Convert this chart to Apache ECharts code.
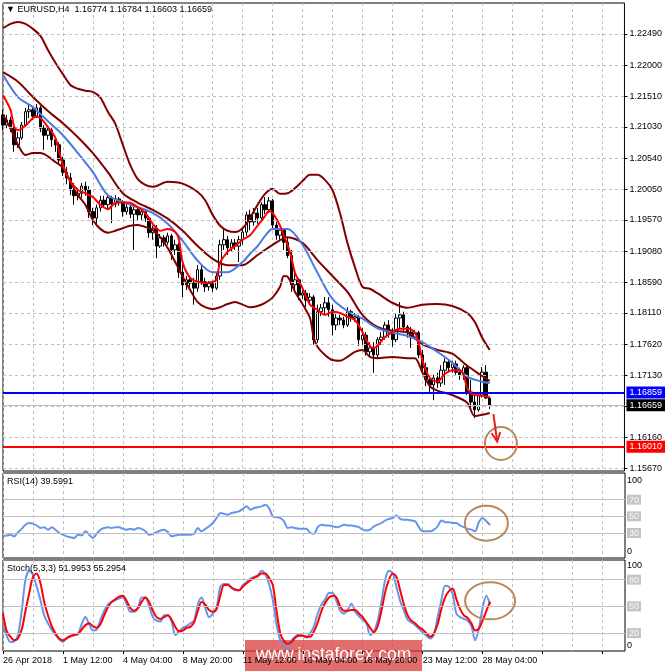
<!DOCTYPE html>
<html>
<head>
<meta charset="utf-8">
<script src="https://cdn.jsdelivr.net/npm/echarts@6/dist/echarts.min.js"></script>
<style>
  html, body { margin: 0; padding: 0; background: #fff; }
  #chart { width: 665px; height: 671px; }
</style>
</head>
<body>
<div id="chart"></div>
<script>
// bar slots: 131 H4 bars + empty space on the right
const cats = Array.from({ length: 167 }, (_, i) => i);
const timeLabels = ['26 Apr 2018', '1 May 12:00', '4 May 04:00', '8 May 20:00', '11 May 12:00',
    '16 May 04:00', '18 May 20:00', '23 May 12:00', '28 May 04:00'];

const priceTicks = [1.22490, 1.22000, 1.21510, 1.21030, 1.20540, 1.20050, 1.19570, 1.19080,
    1.18590, 1.18110, 1.17620, 1.17130, 1.16640, 1.16160, 1.15670];
const rsiTicks = [0, 30, 50, 70, 100];
const rsiLevels = [30, 50, 70];
const stochTicks = [0, 20, 50, 80, 100];
const stochLevels = [20, 50, 80];

const supportLine = 1.16859;
const bidLine = 1.16659;
const targetLine = 1.16010;

// [open, high, low, close]
const ohlc = [
    [1.2122,1.2130,1.2098,1.2106],[1.2106,1.2122,1.2101,1.2114],[1.2114,1.2119,1.2095,1.2101],[1.2101,1.2106,1.2064,1.2075],
    [1.2075,1.2095,1.2070,1.2086],[1.2086,1.2111,1.2083,1.2106],[1.2106,1.2133,1.2103,1.2127],[1.2127,1.2138,1.2117,1.2130],
    [1.2130,1.2134,1.2114,1.2120],[1.2120,1.2139,1.2117,1.2133],[1.2133,1.2136,1.2095,1.2101],[1.2101,1.2106,1.2067,1.2090],
    [1.2090,1.2103,1.2083,1.2098],[1.2098,1.2101,1.2072,1.2083],[1.2083,1.2087,1.2064,1.2075],[1.2075,1.2079,1.2046,1.2051],
    [1.2051,1.2056,1.2026,1.2032],[1.2032,1.2040,1.2013,1.2023],[1.2023,1.2031,1.1996,1.2004],[1.2004,1.2015,1.1981,1.1995],
    [1.1995,1.2007,1.1988,1.1999],[1.1999,1.2015,1.1992,1.2010],[1.2010,1.2017,1.1995,1.2004],[1.2004,1.2010,1.1960,1.1970],
    [1.1970,1.1976,1.1949,1.1960],[1.1960,1.1981,1.1951,1.1976],[1.1976,1.1995,1.1970,1.1988],[1.1988,1.1995,1.1976,1.1981],
    [1.1981,1.1998,1.1973,1.1992],[1.1992,1.1995,1.1952,1.1982],[1.1982,1.1996,1.1977,1.1990],[1.1990,1.1993,1.1979,1.1984],
    [1.1984,1.1988,1.1962,1.1970],[1.1970,1.1984,1.1965,1.1977],[1.1977,1.1982,1.1960,1.1966],[1.1966,1.1979,1.1910,1.1973],
    [1.1973,1.1976,1.1957,1.1965],[1.1965,1.1974,1.1957,1.1970],[1.1970,1.1973,1.1954,1.1960],[1.1960,1.1963,1.1929,1.1937],
    [1.1937,1.1948,1.1926,1.1944],[1.1944,1.1949,1.1897,1.1916],[1.1916,1.1935,1.1913,1.1929],[1.1929,1.1933,1.1915,1.1922],
    [1.1922,1.1937,1.1918,1.1932],[1.1932,1.1935,1.1894,1.1910],[1.1910,1.1926,1.1902,1.1918],[1.1918,1.1921,1.1866,1.1875],
    [1.1875,1.1890,1.1836,1.1855],[1.1855,1.1869,1.1847,1.1863],[1.1863,1.1868,1.1850,1.1858],[1.1858,1.1866,1.1824,1.1850],
    [1.1850,1.1886,1.1844,1.1879],[1.1879,1.1885,1.1855,1.1860],[1.1860,1.1866,1.1844,1.1852],[1.1852,1.1861,1.1846,1.1857],
    [1.1857,1.1860,1.1844,1.1850],[1.1850,1.1875,1.1847,1.1869],[1.1869,1.1926,1.1863,1.1918],[1.1918,1.1944,1.1910,1.1926],
    [1.1926,1.1932,1.1902,1.1913],[1.1913,1.1927,1.1908,1.1921],[1.1921,1.1927,1.1910,1.1916],[1.1916,1.1932,1.1891,1.1926],
    [1.1926,1.1944,1.1918,1.1938],[1.1938,1.1970,1.1932,1.1965],[1.1965,1.1973,1.1941,1.1954],[1.1954,1.1976,1.1948,1.1968],
    [1.1968,1.1976,1.1951,1.1960],[1.1960,1.1985,1.1954,1.1981],[1.1981,1.1993,1.1966,1.1973],[1.1973,1.1993,1.1968,1.1987],
    [1.1987,1.1990,1.1941,1.1949],[1.1949,1.1954,1.1926,1.1933],[1.1933,1.1944,1.1926,1.1941],[1.1941,1.1944,1.1910,1.1922],
    [1.1922,1.1929,1.1897,1.1901],[1.1901,1.1910,1.1844,1.1855],[1.1855,1.1874,1.1844,1.1863],[1.1863,1.1866,1.1831,1.1839],
    [1.1839,1.1847,1.1833,1.1842],[1.1842,1.1847,1.1820,1.1831],[1.1831,1.1842,1.1827,1.1836],[1.1836,1.1839,1.1761,1.1769],
    [1.1769,1.1824,1.1764,1.1813],[1.1813,1.1825,1.1806,1.1819],[1.1819,1.1836,1.1808,1.1827],[1.1827,1.1836,1.1805,1.1816],
    [1.1816,1.1824,1.1776,1.1792],[1.1792,1.1809,1.1784,1.1803],[1.1803,1.1808,1.1792,1.1800],[1.1800,1.1805,1.1787,1.1792],
    [1.1792,1.1820,1.1789,1.1813],[1.1813,1.1816,1.1797,1.1803],[1.1803,1.1811,1.1797,1.1805],[1.1805,1.1808,1.1759,1.1769],
    [1.1769,1.1787,1.1761,1.1776],[1.1776,1.1781,1.1744,1.1750],[1.1750,1.1765,1.1742,1.1756],[1.1756,1.1765,1.1717,1.1745],
    [1.1745,1.1773,1.1740,1.1769],[1.1769,1.1781,1.1761,1.1773],[1.1773,1.1797,1.1769,1.1792],[1.1792,1.1800,1.1772,1.1780],
    [1.1780,1.1787,1.1758,1.1769],[1.1769,1.1811,1.1765,1.1803],[1.1803,1.1828,1.1787,1.1808],[1.1808,1.1813,1.1780,1.1789],
    [1.1789,1.1792,1.1772,1.1781],[1.1781,1.1789,1.1756,1.1773],[1.1773,1.1784,1.1769,1.1780],[1.1780,1.1783,1.1740,1.1745],
    [1.1745,1.1753,1.1718,1.1725],[1.1725,1.1733,1.1696,1.1706],[1.1706,1.1711,1.1687,1.1698],[1.1698,1.1714,1.1674,1.1709],
    [1.1709,1.1717,1.1693,1.1701],[1.1701,1.1729,1.1695,1.1721],[1.1721,1.1740,1.1698,1.1734],[1.1734,1.1737,1.1718,1.1725],
    [1.1725,1.1736,1.1717,1.1731],[1.1731,1.1736,1.1714,1.1718],[1.1718,1.1725,1.1706,1.1714],[1.1714,1.1729,1.1706,1.1725],
    [1.1725,1.1731,1.1682,1.1687],[1.1687,1.1706,1.1659,1.1671],[1.1671,1.1685,1.1646,1.1659],[1.1659,1.1687,1.1656,1.1682],
    [1.1682,1.1726,1.1678,1.1718],[1.1718,1.1729,1.1676,1.16774],[1.16774,1.16784,1.16603,1.16659]
];

// indicator lines: [bar, value]
const bbUpper = [[0,1.2258],[2,1.2265],[4,1.2268],[6,1.2265],[8,1.2257],[10,1.2246],[12,1.2224],[14,1.2204],[16,1.2186],
    [18,1.2169],[20,1.2163],[22,1.2160],[24,1.2158],[26,1.2149],[28,1.2127],[30,1.2108],[32,1.2075],[34,1.2043],[36,1.2021],
    [38,1.2012],[40,1.2009],[44,1.2017],[48,1.2014],[52,1.2001],[54,1.1988],[56,1.1965],[58,1.1948],[60,1.1940],[62,1.1938],
    [64,1.1944],[66,1.1960],[68,1.1981],[70,1.1998],[72,1.2006],[74,1.1998],[76,1.1999],[78,1.2007],[80,1.2018],[82,1.2028],
    [84,1.2028],[86,1.2020],[88,1.2004],[90,1.1968],[92,1.1921],[94,1.1883],[96,1.1852],[98,1.1849],[100,1.1842],[104,1.1827],
    [108,1.1819],[112,1.1824],[116,1.1825],[120,1.1822],[124,1.1811],[126,1.1797],[128,1.1772],[130,1.1753]];
const bbMiddle = [[0,1.2189],[4,1.2174],[8,1.2150],[12,1.2128],[16,1.2109],[20,1.2087],[24,1.2062],[28,1.2032],[32,1.1999],
    [36,1.1984],[40,1.1973],[44,1.1959],[48,1.1940],[52,1.1916],[56,1.1896],[60,1.1886],[64,1.1886],[68,1.1902],[72,1.1918],
    [76,1.1930],[80,1.1921],[84,1.1894],[88,1.1869],[92,1.1844],[96,1.1808],[100,1.1789],[104,1.1783],[108,1.1780],[112,1.1762],
    [116,1.1753],[120,1.1747],[124,1.1728],[128,1.1712],[130,1.1704]];
const bbLower = [[0,1.2122],[2,1.2101],[4,1.2075],[6,1.2059],[8,1.2062],[10,1.2062],[12,1.2057],[14,1.2048],[16,1.2039],
    [18,1.2017],[20,1.1996],[22,1.1981],[24,1.1957],[26,1.1943],[28,1.1937],[30,1.1940],[32,1.1944],[34,1.1948],[36,1.1949],
    [38,1.1946],[40,1.1941],[42,1.1930],[44,1.1913],[46,1.1891],[48,1.1868],[50,1.1847],[52,1.1828],[54,1.1820],[56,1.1817],
    [58,1.1820],[60,1.1825],[62,1.1828],[64,1.1824],[66,1.1820],[68,1.1822],[70,1.1827],[72,1.1835],[74,1.1852],[75,1.1869],
    [76,1.1868],[78,1.1844],[80,1.1825],[82,1.1803],[83,1.1772],[84,1.1758],[86,1.1745],[88,1.1737],[90,1.1736],[92,1.1742],
    [94,1.1750],[96,1.1753],[98,1.1742],[100,1.1740],[104,1.1742],[108,1.1740],[110,1.1740],[112,1.1718],[114,1.1696],
    [116,1.1689],[120,1.1682],[124,1.1670],[126,1.1649],[128,1.1651],[130,1.1654]];
const maSlow = [[0,1.2185],[4,1.2150],[8,1.2134],[12,1.2112],[16,1.2090],[20,1.2062],[24,1.2032],[28,1.1996],[32,1.1985],
    [36,1.1977],[40,1.1968],[44,1.1951],[48,1.1924],[52,1.1893],[56,1.1875],[60,1.1875],[64,1.1891],[66,1.1904],[68,1.1916],
    [70,1.1932],[72,1.1943],[76,1.1943],[80,1.1918],[84,1.1874],[88,1.1833],[92,1.1814],[96,1.1802],[100,1.1787],[104,1.1780],
    [108,1.1775],[112,1.1765],[116,1.1750],[120,1.1733],[124,1.1711],[128,1.1703],[130,1.1701]];
const maFast = [[0,1.2153],[2,1.2130],[3,1.2103],[4,1.2098],[6,1.2105],[8,1.2117],[9,1.2119],[10,1.2117],[12,1.2103],
    [14,1.2086],[16,1.2043],[18,1.2018],[20,1.2004],[22,1.1999],[24,1.1993],[26,1.1981],[28,1.1974],[30,1.1984],[32,1.1985],
    [34,1.1984],[36,1.1977],[38,1.1968],[40,1.1951],[42,1.1940],[44,1.1943],[46,1.1938],[47,1.1926],[48,1.1890],[50,1.1866],
    [52,1.1860],[54,1.1858],[56,1.1860],[57,1.1863],[58,1.1890],[60,1.1907],[62,1.1916],[64,1.1926],[66,1.1933],[68,1.1948],
    [70,1.1963],[71,1.1971],[72,1.1968],[74,1.1948],[75,1.1933],[76,1.1918],[77,1.1899],[78,1.1874],[80,1.1850],[82,1.1824],
    [84,1.1816],[86,1.1808],[88,1.1813],[90,1.1811],[92,1.1805],[94,1.1800],[96,1.1781],[98,1.1759],[99,1.1756],[100,1.1759],
    [102,1.1773],[104,1.1781],[106,1.1786],[108,1.1786],[110,1.1780],[111,1.1765],[112,1.1737],[113,1.1721],[114,1.1709],
    [116,1.1703],[118,1.1715],[120,1.1721],[122,1.1721],[123,1.1714],[124,1.1693],[125,1.1685],[126,1.1682],[128,1.1681],
    [130,1.1679]];

const rsi = [26,27,28,26,31,35,40,42,41,39, 36,37,34,37,34,30,28,26,25,24, 28,27,32,28,24,29,34,36,37,36,
    37,37,35,34,35,34,36,35,32,28, 29,31,33,34,31,26,27,28,28,28, 28,29,36,32,35,38,42,48,54,53,
    52,54,55,56,59,62,58,60,61,62, 64,60,50,49,48,44,36,37,36,35, 35,35,30,29,37,40,39,39,38,37,
    38,40,39,39,38,37,34,33,34,38, 40,42,45,47,48,51,47,46,46,45, 44,37,32,32,32,34,38,45,43,43,
    42,42,39,37,35,34,32,43,48,44, 39.5991];
const stochK = [29,17,10,11,18,45,80,90,85,72, 57,40,31,24,18,13,10,15,16,18, 19,30,38,30,23,24,35,45,52,55,
    57,59,60,53,44,44,48,60,60,50, 38,34,33,40,40,33,18,22,26,28, 31,34,52,60,48,38,42,49,72,75,
    75,71,68,68,74,77,81,83,85,90, 86,75,57,30,12,6,4,12,16,19, 17,15,20,28,42,52,58,65,65,56,
    45,42,46,53,44,39,35,31,18,22, 34,55,80,90,87,72,56,45,35,32, 29,25,21,17,14,18,38,57,73,72,
    64,42,38,36,34,28,12,25,48,62, 51.9953];
const stochD = [42,22,16,12,14,24,45,65,83,87, 76,55,40,28,20,14,12,14,17,18, 19,24,29,31,28,26,30,40,49,55,
    58,61,62,56,48,45,48,55,60,55, 45,38,36,38,40,35,27,22,23,26, 27,32,45,55,52,46,44,47,62,74,
    74,71,69,68,72,76,79,82,84,87, 87,82,74,45,20,11,8,10,15,17, 17,16,16,22,32,45,54,60,62,60,
    50,45,45,46,46,42,38,32,26,21, 28,45,66,80,87,83,68,52,40,34, 31,27,24,20,16,20,30,47,60,67,
    70,58,47,40,37,31,23,25,34,45, 55.2954];

// annotation anchors in data units: [bar, value]
const mainRing = [133, 1.1606];
const arrowFrom = [130.8, 1.1652];
const arrowTo = [132.1, 1.1609];
const rsiRing = [128.5, 41.8];
const stochRing = [129.8, 56.2];

const font = 'Liberation Sans, Arial, sans-serif';
const gridGray = '#c0c0c0';
const ringColor = '#b8875e';

function xAxisFor(gridIndex, withLabels) {
    return {
        type: 'category', gridIndex: gridIndex, data: cats, boundaryGap: false,
        axisLine: { show: false },
        axisTick: withLabels ? { show: true, interval: 15, length: 3, lineStyle: { color: '#000' } } : { show: false },
        axisLabel: withLabels ? {
            show: true, interval: 15, align: 'left', fontSize: 9, color: '#000', margin: 5,
            formatter: (v, i) => timeLabels[i / 16] || ''
        } : { show: false },
        splitLine: { show: true, interval: 7, lineStyle: { color: gridGray, type: [3, 3], width: 1 } }
    };
}

function oscAxis(gridIndex, ticks, levels, padTop, padBottom) {
    return {
        type: 'value', gridIndex: gridIndex, position: 'right', min: 0, max: 102,
        axisLine: { show: false }, splitLine: { show: false }, axisTick: { show: false },
        axisLabel: {
            customValues: ticks, margin: 2, fontSize: 9, color: '#000',
            formatter: v => v === 100 ? '{top|100}' : v === 0 ? '{bot|0}' : '{lvl|' + v + '}',
            rich: {
                top: { padding: [padTop, 0, 0, 0], fontSize: 9, color: '#000' },
                bot: { padding: [0, 0, padBottom, 0], fontSize: 9, color: '#000' },
                lvl: { backgroundColor: '#c4c4c4', color: '#f8f8f8', padding: [1, 2, 0, 2], fontSize: 9 }
            }
        }
    };
}

function levelSeries(axisIndex, levels, dashed) {
    return {
        type: 'line', xAxisIndex: axisIndex, yAxisIndex: axisIndex, data: [], z: 0, silent: true,
        markLine: {
            silent: true, symbol: ['none', 'none'], label: { show: false }, precision: 5,
            lineStyle: { color: gridGray, width: 1, type: dashed ? [3, 3] : 'solid' },
            data: levels.map(v => ({ yAxis: v }))
        }
    };
}

function lineSeries(data, color, width, axisIndex, z) {
    return {
        type: 'line', data: data, xAxisIndex: axisIndex, yAxisIndex: axisIndex,
        symbol: 'none', smooth: 0.3, z: z, silent: true,
        lineStyle: { color: color, width: width }
    };
}

function priceMark(value, color, width, boxColor) {
    return {
        yAxis: value,
        lineStyle: { color: color, width: width, type: 'solid' },
        label: { backgroundColor: boxColor }
    };
}

const last = ohlc[ohlc.length - 1];
const headerText = '\u25BC EURUSD,H4  ' + [last[0], last[1], last[2], last[3]].map(v => v.toFixed(5)).join(' ');

let chart = echarts.init(document.getElementById('chart'), null, { renderer: 'canvas' });

chart.setOption({
    animation: false,
    backgroundColor: '#ffffff',
    textStyle: { fontFamily: font },
    title: [
        { text: headerText, left: 6, top: 5, padding: 0, textStyle: { fontSize: 9, fontWeight: 'normal', color: '#000', fontFamily: font } },
        { text: 'RSI(14) ' + rsi[rsi.length - 1].toFixed(4), left: 7, top: 477, padding: 0,
          textStyle: { fontSize: 9, fontWeight: 'normal', color: '#000', fontFamily: font } },
        { text: 'Stoch(5,3,3) ' + stochK[stochK.length - 1].toFixed(4) + ' ' + stochD[stochD.length - 1].toFixed(4),
          left: 7, top: 564, padding: 0, textStyle: { fontSize: 9, fontWeight: 'normal', color: '#000', fontFamily: font } }
    ],
    grid: [
        { left: 3, top: 3, width: 622, height: 468, show: true, borderColor: '#000', borderWidth: 1 },
        { left: 3, top: 473, width: 622, height: 85, show: true, borderColor: '#000', borderWidth: 1 },
        { left: 3, top: 560, width: 622, height: 91, show: true, borderColor: '#000', borderWidth: 1 }
    ],
    xAxis: [xAxisFor(0, false), xAxisFor(1, false), xAxisFor(2, true)],
    yAxis: [
        {
            type: 'value', gridIndex: 0, position: 'right', min: 1.15628, max: 1.22977,
            axisLine: { show: false }, splitLine: { show: false },
            axisTick: { show: true, customValues: priceTicks, length: 3, lineStyle: { color: '#000' } },
            axisLabel: { customValues: priceTicks, formatter: v => v.toFixed(5), fontSize: 9, color: '#000', margin: 5 }
        },
        oscAxis(1, rsiTicks, rsiLevels, 11, 12),
        oscAxis(2, stochTicks, stochLevels, 8, 11)
    ],
    series: [
        levelSeries(0, priceTicks, true),
        {
            type: 'candlestick', xAxisIndex: 0, yAxisIndex: 0, z: 2, silent: true,
            data: ohlc.map(b => [b[0], b[3], b[2], b[1]]),
            barWidth: 3,
            itemStyle: { color: '#ffffff', color0: '#000000', borderColor: '#000000', borderColor0: '#000000', borderWidth: 1 },
            markLine: {
                silent: true, symbol: ['none', 'none'], precision: 5,
                label: {
                    show: true, position: 'end', distance: 2, color: '#fff', fontSize: 9,
                    padding: [2, 3, 1, 3], formatter: p => Number(p.value).toFixed(5)
                },
                data: [
                    priceMark(bidLine, '#c0c0c0', 1, '#000000'),
                    priceMark(supportLine, '#0000ff', 2, '#0000ff'),
                    priceMark(targetLine, '#ff0000', 2, '#ff0000')
                ]
            }
        },
        lineSeries(bbUpper, '#800000', 2, 0, 3),
        lineSeries(bbMiddle, '#800000', 2, 0, 3),
        lineSeries(bbLower, '#800000', 2, 0, 3),
        lineSeries(maSlow, '#4a78e6', 2, 0, 4),
        lineSeries(maFast, '#ff0000', 2, 0, 5),

        levelSeries(1, rsiLevels, false),
        lineSeries(rsi, '#6495ed', 2, 1, 3),

        levelSeries(2, stochLevels, false),
        lineSeries(stochK, '#6495ed', 2, 2, 3),
        lineSeries(stochD, '#ff0000', 2, 2, 4)
    ]
});

// annotations placed through the axes
const px = (idx, pt) => chart.convertToPixel({ xAxisIndex: idx, yAxisIndex: idx }, pt);
const c0 = px(0, mainRing);
const c1 = px(1, rsiRing);
const c2 = px(2, stochRing);
const a0 = px(0, arrowFrom);
const a1 = px(0, arrowTo);
const ang = Math.atan2(a1[1] - a0[1], a1[0] - a0[0]);
const head = (off) => [a1[0] - 10 * Math.cos(ang + off), a1[1] - 10 * Math.sin(ang + off)];

chart.setOption({
    graphic: [
        { type: 'ellipse', z: 50, silent: true, shape: { cx: c0[0], cy: c0[1], rx: 16, ry: 16.5 },
          style: { fill: 'none', stroke: ringColor, lineWidth: 2 } },
        { type: 'ellipse', z: 50, silent: true, shape: { cx: c1[0], cy: c1[1], rx: 21.5, ry: 17.5 },
          style: { fill: 'none', stroke: ringColor, lineWidth: 2 } },
        { type: 'ellipse', z: 50, silent: true, shape: { cx: c2[0], cy: c2[1], rx: 25, ry: 18.5 },
          style: { fill: 'none', stroke: ringColor, lineWidth: 2 } },
        { type: 'polyline', z: 51, silent: true, shape: { points: [a0, a1] },
          style: { stroke: '#e8201c', lineWidth: 2, fill: 'none' } },
        { type: 'polyline', z: 51, silent: true, shape: { points: [head(0.45), a1, head(-0.45)] },
          style: { stroke: '#e8201c', lineWidth: 2, fill: 'none' } },
        {
            type: 'group', left: 245, top: 640, z: 60, silent: true,
            children: [
                { type: 'rect', shape: { x: 0, y: 0, width: 177, height: 31 }, style: { fill: 'rgba(214, 52, 52, 0.72)' } },
                { type: 'text', x: 88.5, y: 15, style: { text: 'www.instaforex.com', fill: '#ffffff', font: '17.5px ' + font,
                  align: 'center', verticalAlign: 'middle' } }
            ]
        }
    ]
});

window.addEventListener('resize', function () {
    setTimeout(() => { chart.resize(); }, 500);
});
</script>
</body>
</html>
